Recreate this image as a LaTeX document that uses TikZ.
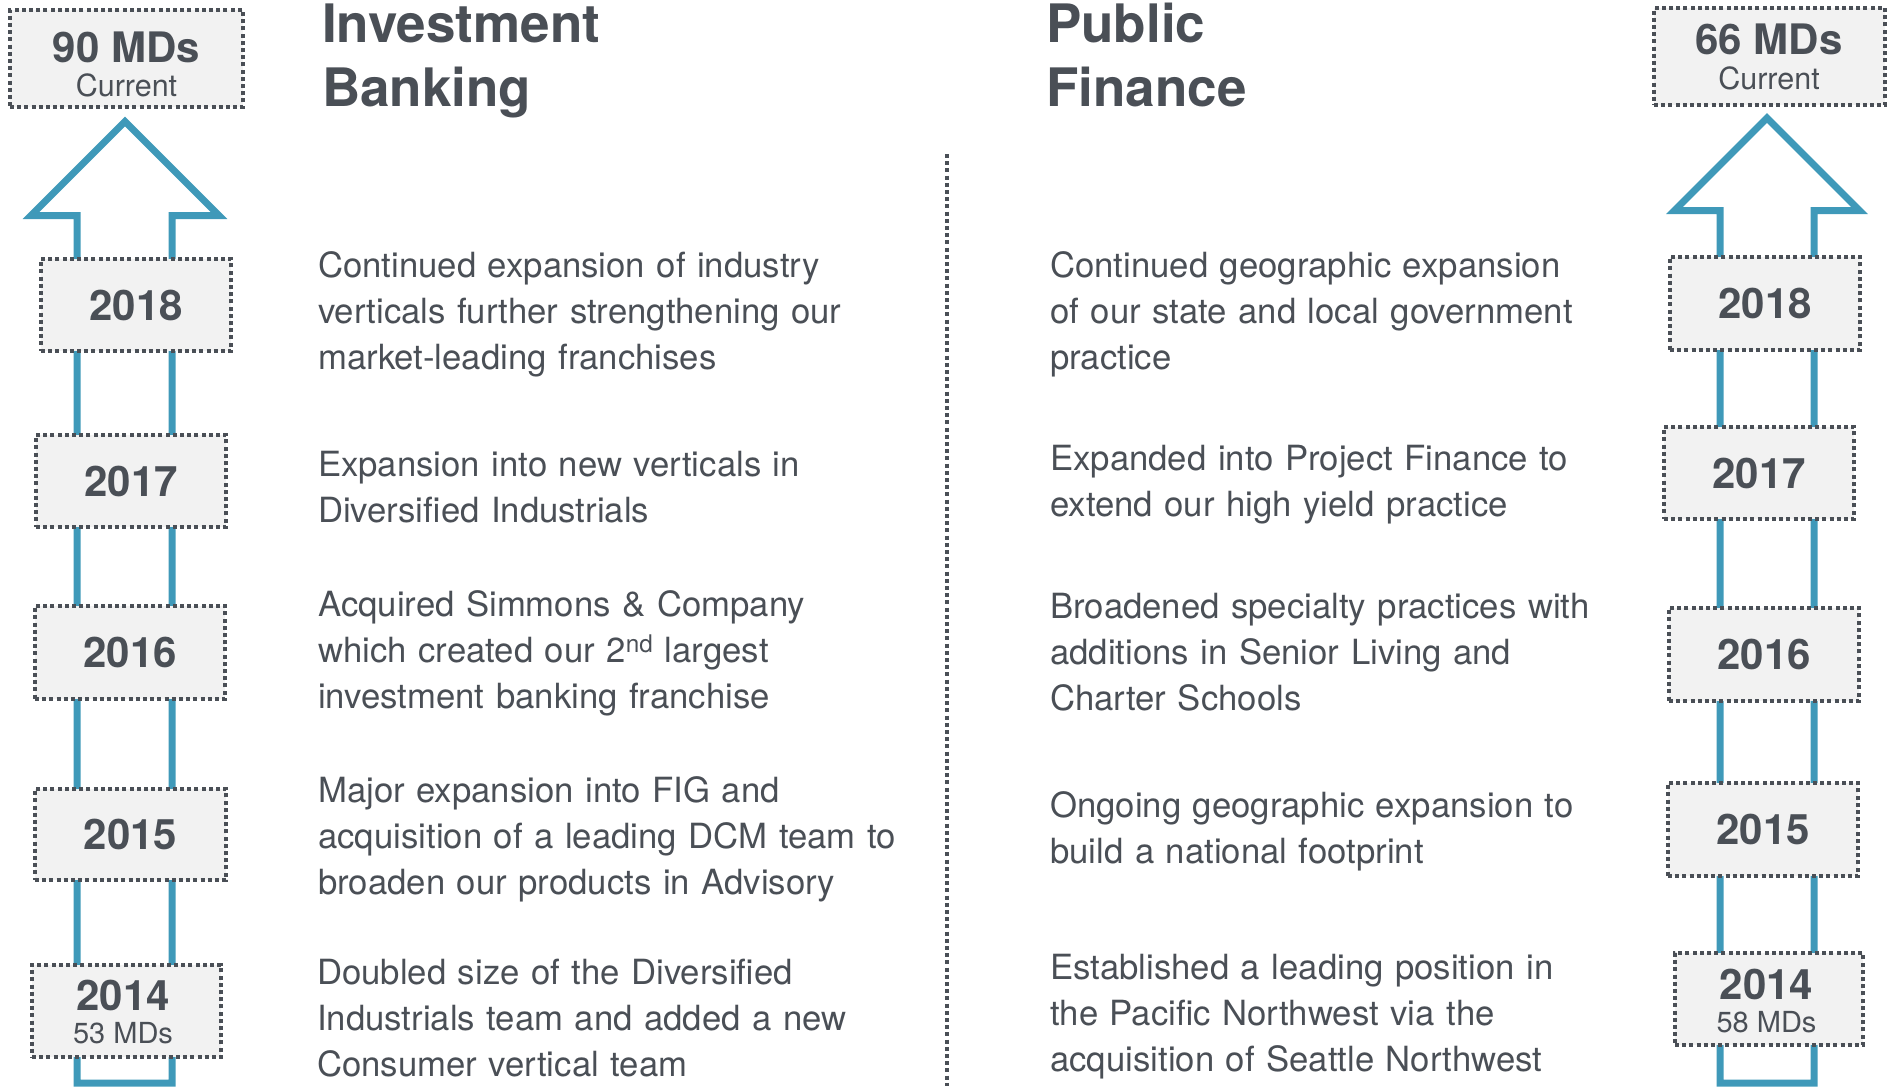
\documentclass[tikz,border=0pt]{standalone}
\usepackage{fontspec}
\setmainfont{TeX Gyre Heros}
\definecolor{txt}{HTML}{4A4F56}
\definecolor{arr}{HTML}{3F99B9}
\definecolor{boxfill}{HTML}{F2F2F2}
\begin{document}
\begin{tikzpicture}[x=1pt,y=-1pt,
  dotbox/.style={draw=txt, fill=boxfill, line width=4pt, dash pattern=on 4pt off 3.2pt,
    inner sep=0pt, text=txt, font=\fontsize{42}{42}\selectfont\bfseries},
  arrowline/.style={draw=arr, line width=7pt, line join=miter, miter limit=10},
  sepline/.style={draw=txt, line width=4pt, dash pattern=on 4pt off 3.2pt},
  body/.style={anchor=base west, inner sep=0pt, text=txt, align=left, text width=660pt,
    font=\fontsize{34.7}{46}\selectfont},
  head/.style={anchor=base west, inner sep=0pt, text=txt, align=left, text width=400pt,
    font=\fontsize{53}{64}\selectfont\bfseries},
  bignum/.style={anchor=base, inner sep=0pt, text=txt, font=\fontsize{42}{42}\selectfont\bfseries},
  smalltxt/.style={anchor=base, inner sep=0pt, text=txt, font=\fontsize{29}{29}\selectfont},
]
\useasboundingbox (0,0) rectangle (1889,1089);

% arrows
\draw[arrowline] (77,1083) -- (77,215.5) -- (31,215.5) -- (125,121.5) -- (219,215.5)
  -- (172,215.5) -- (172,1083) -- cycle;
\draw[arrowline] (1720,1083) -- (1720,210.5) -- (1674.5,210.5) -- (1767,118) -- (1859.5,210.5)
  -- (1814,210.5) -- (1814,1083) -- cycle;

% separator
\draw[sepline] (947,154) -- (947,1086);

% left boxes
\node[dotbox, minimum width=233pt, minimum height=97pt] (lcur) at (126.5,58.5) {};
\node[dotbox, minimum width=190pt, minimum height=92pt] (l18) at (136,305) {2018};
\node[dotbox, minimum width=190pt, minimum height=92pt] (l17) at (131,481) {2017};
\node[dotbox, minimum width=190pt, minimum height=93pt] (l16) at (130,652.5) {2016};
\node[dotbox, minimum width=191pt, minimum height=91pt] (l15) at (130.5,834.5) {2015};
\node[dotbox, minimum width=189pt, minimum height=92pt] (l14) at (126.5,1011) {};

% right boxes
\node[dotbox, minimum width=231pt, minimum height=97pt] (rcur) at (1769.5,56.5) {};
\node[dotbox, minimum width=190pt, minimum height=93pt] (r18) at (1765,303.5) {2018};
\node[dotbox, minimum width=190pt, minimum height=92pt] (r17) at (1759,473) {2017};
\node[dotbox, minimum width=190pt, minimum height=93pt] (r16) at (1764,654.5) {2016};
\node[dotbox, minimum width=190pt, minimum height=93pt] (r15) at (1763,829.5) {2015};
\node[dotbox, minimum width=188pt, minimum height=92pt] (r14) at (1769,999) {};

% two-line box texts
\node[bignum] (lcurA) at (126.5,63) {90 MDs};
\node[smalltxt, font=\fontsize{30.5}{30}\selectfont] (lcurB) at (126.5,97) {Current};
\node[bignum] (l14A) at (123,1010) {2014};
\node[smalltxt] (l14B) at (123,1043) {53 MDs};
\node[bignum] (rcurA) at (1769,55) {66 MDs};
\node[smalltxt, font=\fontsize{30.5}{30}\selectfont] (rcurB) at (1769,90) {Current};
\node[bignum] (r14A) at (1766.5,999) {2014};
\node[smalltxt] (r14B) at (1766.5,1032) {58 MDs};

% headings
\node[head] (hib) at (322,43) {Investment\\Banking};
\node[head] (hpf) at (1046,43) {Public\\Finance};

% left texts
\node[body] (tl18) at (318,277) {Continued expansion of industry\\verticals further strengthening our\\market-leading franchises};
\node[body] (tl17) at (318,476) {Expansion into new verticals in\\Diversified Industrials};
\node[body] (tl16) at (318,616) {Acquired Simmons \& Company\\which created our 2\textsuperscript{nd} largest\\investment banking franchise};
\node[body] (tl15) at (318,802) {Major expansion into FIG and\\acquisition of a leading DCM team to\\broaden our products in Advisory};
\node[body] (tl14) at (317,984) {Doubled size of the Diversified\\Industrials team and added a new\\Consumer vertical team};

% right texts
\node[body] (tr18) at (1050,277) {Continued geographic expansion\\of our state and local government\\practice};
\node[body] (tr17) at (1050,470) {Expanded into Project Finance to\\extend our high yield practice};
\node[body] (tr16) at (1050,618) {Broadened specialty practices with\\additions in Senior Living and\\Charter Schools};
\node[body] (tr15) at (1050,817) {Ongoing geographic expansion to\\build a national footprint};
\node[body] (tr14) at (1050,979) {Established a leading position in\\the Pacific Northwest via the\\acquisition of Seattle Northwest};
\end{tikzpicture}
\end{document}
